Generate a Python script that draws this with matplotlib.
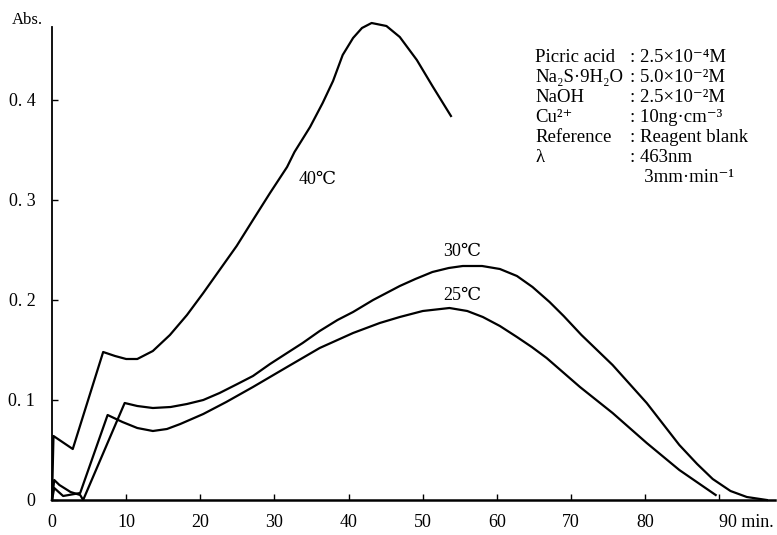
import matplotlib
matplotlib.use("Agg")
import matplotlib.pyplot as plt

plt.rcParams['font.family'] = ['Liberation Serif', 'DejaVu Serif', 'DejaVu Sans']

# 40 C
t40 = [0, 0.2, 2.8, 6.9, 8.5, 10.0, 11.5, 13.6, 15.9, 18.2, 20.4, 22.6, 24.9,
       27.1, 29.4, 31.7, 32.7, 34.8, 36.5, 37.9, 39.2, 40.6, 41.8, 43.1, 45.1,
       46.9, 49.2, 51.3, 53.8]
a40 = [0, 0.064, 0.051, 0.148, 0.144, 0.141, 0.141, 0.149, 0.165, 0.185, 0.207,
       0.230, 0.254, 0.280, 0.307, 0.333, 0.348, 0.373, 0.397, 0.419, 0.445,
       0.462, 0.472, 0.477, 0.474, 0.463, 0.440, 0.414, 0.384]

# 30 C
t30 = [0, 0.3, 1.0, 2.5, 3.8, 4.2, 9.8, 11.5, 13.6, 16.0, 18.2, 20.4, 22.6,
       25.0, 27.1, 29.4, 31.7, 33.8, 36.1, 38.5, 40.6, 43.3, 46.9, 49.0, 51.3,
       53.5, 55.4, 58.0, 60.4, 62.7, 64.8, 67.1, 69.0, 71.4, 75.6, 80.2, 84.6,
       87.0, 89.1, 91.5, 93.7, 96.4]
a30 = [0, 0.020, 0.015, 0.008, 0.005, 0, 0.097, 0.094, 0.092, 0.093, 0.096,
       0.100, 0.107, 0.116, 0.124, 0.136, 0.147, 0.157, 0.169, 0.180, 0.188,
       0.200, 0.214, 0.221, 0.228, 0.232, 0.234, 0.234, 0.231, 0.224, 0.213,
       0.198, 0.184, 0.165, 0.135, 0.097, 0.055, 0.036, 0.021, 0.009, 0.003, 0]

# 25 C
t25 = [0, 0.3, 1.5, 3.8, 7.5, 9.5, 11.5, 13.6, 15.5, 17.3, 20.4, 23.5, 27.1,
       31.7, 36.1, 40.6, 44.2, 46.9, 50.0, 53.6, 56.0, 58.1, 60.4, 62.7, 64.7,
       66.7, 71.2, 75.6, 80.2, 84.6, 89.5]
a25 = [0, 0.012, 0.004, 0.007, 0.085, 0.078, 0.072, 0.069, 0.071, 0.076, 0.086,
       0.098, 0.113, 0.133, 0.152, 0.167, 0.177, 0.183, 0.189, 0.192, 0.189,
       0.183, 0.174, 0.163, 0.153, 0.142, 0.113, 0.087, 0.057, 0.030, 0.005]

xticks = [0, 10, 20, 30, 40, 50, 60, 70, 80, 90]
xlabels = ['0', '10', '20', '30', '40', '50', '60', '70', '80', '90 min.']
yticks = [0, 0.1, 0.2, 0.3, 0.4]
ylabels = ['0', '0. 1', '0. 2', '0. 3', '0. 4']

cond_names = ['Picric acid', 'Na₂S·9H₂O', 'NaOH', 'Cu²⁺',
              'Reference', 'λ', '']
cond_values = [': 2.5×10⁻⁴M', ': 5.0×10⁻²M', ': 2.5×10⁻²M', ': 10ng·cm⁻³',
               ': Reagent blank', ': 463nm', '   3mm·min⁻¹']

W, H = 777, 535
fig = plt.figure(figsize=(W / 100, H / 100), dpi=100)
ax = fig.add_axes([52 / W, 35 / H, (775 - 52) / W, (500 - 27) / H])

ax.plot(t40, a40, color='black', lw=1.6, clip_on=False)
ax.plot(t30, a30, color='black', lw=1.6, clip_on=False)
ax.plot(t25, a25, color='black', lw=1.6, clip_on=False)

ax.set_xlim(0, 97.5)
ax.set_ylim(0, 0.473)
for s in ['top', 'right']:
    ax.spines[s].set_visible(False)
ax.spines['left'].set_linewidth(1.3)
ax.spines['bottom'].set_linewidth(1.8)

ax.set_xticks(xticks)
ax.set_xticklabels(xlabels, fontsize=13)
ax.set_yticks(yticks)
ax.set_yticklabels(ylabels, fontsize=13)
ax.tick_params(axis='both', direction='in', length=4, width=1)
ax.tick_params(axis='x', pad=10)
ax.tick_params(axis='y', pad=12)
ax.get_xticklabels()[-1].set_horizontalalignment('left')
ax.get_xticklabels()[-1].set_x(87.7)

fig.text(12 / W, 1 - 20 / H, 'Abs.', fontsize=12, va='center', ha='left')

ax.text(35.8, 0.32, '40℃', fontsize=13, ha='center', va='center')
ax.text(55.3, 0.248, '30℃', fontsize=13, ha='center', va='center')
ax.text(55.3, 0.205, '25℃', fontsize=13, ha='center', va='center')

for i, (n, v) in enumerate(zip(cond_names, cond_values)):
    y = 1 - (58 + 20 * i) / H
    fig.text(535 / W, y, n, fontsize=13.5, va='center', ha='left')
    fig.text(630 / W, y, v, fontsize=13.5, va='center', ha='left')

fig.savefig('out.png', dpi=100)
